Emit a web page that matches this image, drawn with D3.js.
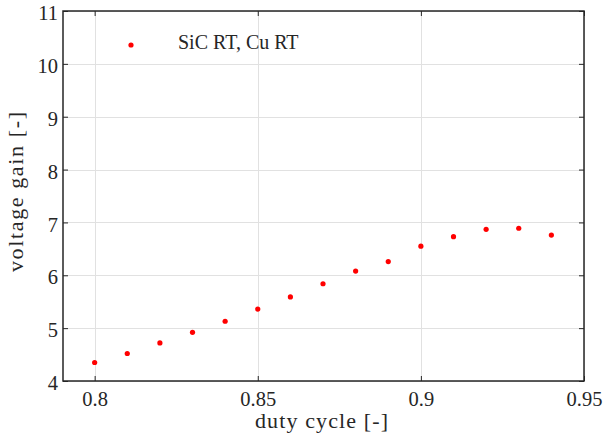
<!DOCTYPE html>
<html><head><meta charset="utf-8">
<script src="https://cdn.jsdelivr.net/npm/d3@7"></script>
<style>body{margin:0;background:#fff}svg{display:block}</style>
</head><body>
<script>
const dutyCycle = [0.80,0.81,0.82,0.83,0.84,0.85,0.86,0.87,0.88,0.89,0.90,0.91,0.92,0.93,0.94];
const voltageGain = [4.35,4.52,4.72,4.92,5.13,5.36,5.59,5.84,6.08,6.26,6.55,6.73,6.87,6.89,6.76];
const xTicks = [0.8,0.85,0.9,0.95];
const yTicks = [4,5,6,7,8,9,10,11];
const legendLabel = "SiC RT, Cu RT";

const W=604,H=441;
const m={l:63,t:11,r:584,b:381};
const font="Liberation Serif";
const svg=d3.select("body").append("svg").attr("width",W).attr("height",H);
const x=d3.scaleLinear().domain([0.7903,0.95]).range([m.l,m.r]);
const y=d3.scaleLinear().domain([4,11]).range([m.b,m.t]);

const g=svg.append("g");
g.selectAll(".vg").data(xTicks).enter().append("line")
 .attr("x1",d=>Math.round(x(d))+0.5).attr("x2",d=>Math.round(x(d))+0.5)
 .attr("y1",m.t).attr("y2",m.b).attr("stroke","#e1e1e1").attr("stroke-width",1);
g.selectAll(".hg").data(yTicks).enter().append("line")
 .attr("y1",d=>Math.round(y(d))+0.5).attr("y2",d=>Math.round(y(d))+0.5)
 .attr("x1",m.l).attr("x2",m.r).attr("stroke","#e1e1e1").attr("stroke-width",1);

const axisColor="#262626";
const mk=(ax)=>ax.tickSizeInner(-5).tickSizeOuter(0);
const xb=svg.append("g").attr("transform",`translate(0,${m.b})`)
 .call(mk(d3.axisBottom(x).tickValues(xTicks).tickFormat(d=>String(d))).tickPadding(10));
const xt=svg.append("g").attr("transform",`translate(0,${m.t})`)
 .call(mk(d3.axisTop(x).tickValues(xTicks).tickFormat("")));
const yl=svg.append("g").attr("transform",`translate(${m.l},0)`)
 .call(mk(d3.axisLeft(y).tickValues(yTicks).tickFormat(d=>String(d))).tickPadding(5));
const yr=svg.append("g").attr("transform",`translate(${m.r},0)`)
 .call(mk(d3.axisRight(y).tickValues(yTicks).tickFormat("")));
[xb,xt,yl,yr].forEach(a=>{
 a.attr("font-family",font).attr("font-size",20.5);
 a.select(".domain").remove();
 a.selectAll("line").attr("stroke",axisColor);
 a.selectAll("text").attr("fill",axisColor);
});
yl.selectAll("text").attr("dy","0.42em");
svg.append("rect").attr("x",m.l).attr("y",m.t).attr("width",m.r-m.l).attr("height",m.b-m.t)
 .attr("fill","none").attr("stroke",axisColor).attr("stroke-width",1.5);

svg.append("g").selectAll("circle").data(dutyCycle).enter().append("circle")
 .attr("cx",d=>x(d)).attr("cy",(d,i)=>y(voltageGain[i])).attr("r",2.6).attr("fill","#ff0000");

svg.append("circle").attr("cx",131).attr("cy",45).attr("r",2.6).attr("fill","#ff0000");
svg.append("text").attr("x",178).attr("y",49).text(legendLabel)
 .attr("font-family",font).attr("font-size",20).attr("fill",axisColor);

svg.append("text").attr("x",321.5).attr("y",428).attr("text-anchor","middle")
 .attr("textLength",133).attr("lengthAdjust","spacing")
 .text("duty cycle [-]").attr("font-family",font).attr("font-size",22).attr("fill",axisColor);
svg.append("text").attr("transform",`translate(23,192) rotate(-90)`).attr("text-anchor","middle")
 .attr("textLength",160).attr("lengthAdjust","spacing")
 .text("voltage gain [-]").attr("font-family",font).attr("font-size",22).attr("fill",axisColor);
</script>
</body></html>
